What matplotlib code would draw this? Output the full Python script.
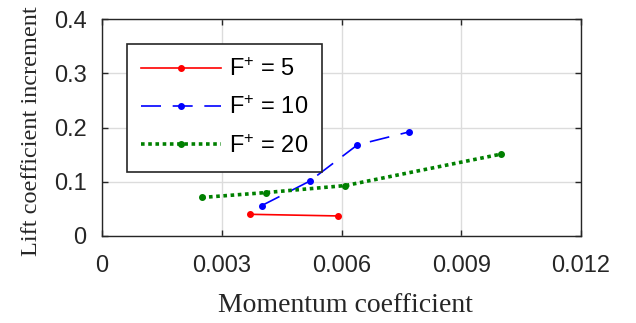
import matplotlib
matplotlib.use("Agg")
import matplotlib.pyplot as plt

# F+ = 5
x5 = [0.0037, 0.0059]
y5 = [0.040, 0.037]
# F+ = 10
x10 = [0.0040, 0.0052, 0.0064, 0.0077]
y10 = [0.056, 0.101, 0.168, 0.192]
# F+ = 20
x20 = [0.0025, 0.0041, 0.0061, 0.0100]
y20 = [0.071, 0.080, 0.093, 0.151]

xticks = [0, 0.003, 0.006, 0.009, 0.012]
xticklabels = ["0", "0.003", "0.006", "0.009", "0.012"]
yticks = [0, 0.1, 0.2, 0.3, 0.4]
yticklabels = ["0", "0.1", "0.2", "0.3", "0.4"]
labels = [r"F$^{+}$ = 5", r"F$^{+}$ = 10", r"F$^{+}$ = 20"]

plt.rcParams["font.family"] = "Liberation Sans"
plt.rcParams["mathtext.fontset"] = "custom"
plt.rcParams["mathtext.rm"] = "Liberation Sans"
plt.rcParams["mathtext.it"] = "Liberation Sans"

fig = plt.figure(figsize=(6.36, 3.23), dpi=100)
ax = fig.add_axes([102/636, 1 - 236/323, (581-102)/636, (236-19)/323])

ax.plot(x5, y5, "-", color="#ff0000", lw=1.2, marker="o", ms=4, label=labels[0])
ax.plot(x10, y10, color="#0000ff", lw=1.2, ls=(0, (12, 7)), marker="o", ms=4, label=labels[1])
ax.plot(x20, y20, color="#008000", lw=2.6, ls=(0, (1, 1)), marker="o", ms=4,
        dash_capstyle="butt", label=labels[2])

ax.set_xlim(0, 0.012)
ax.set_ylim(0, 0.4)
ax.set_xticks(xticks)
ax.set_xticklabels(xticklabels)
ax.set_yticks(yticks)
ax.set_yticklabels(yticklabels)
ax.grid(True, color="#dcdcdc", lw=1)
ax.set_axisbelow(True)
ax.tick_params(direction="in", top=True, right=True, labelsize=17, length=4,
               width=1, color="#262626", labelcolor="#262626")
ax.tick_params(axis="x", pad=14)
ax.tick_params(axis="y", pad=11)
for s in ax.spines.values():
    s.set_color("#262626")
    s.set_linewidth(1)

ax.set_xlabel("Momentum coefficient", fontfamily="Liberation Serif", fontsize=20, color="#262626")
ax.set_ylabel("Lift coefficient increment", fontfamily="Liberation Serif", fontsize=17.5, color="#262626")
ax.xaxis.set_label_coords(0.508, -0.264)
ax.yaxis.set_label_coords(-0.125, 0.484)

leg = ax.legend(loc="upper left", bbox_to_anchor=(25/479, 1 - 25/217), borderaxespad=0,
                fontsize=17, fancybox=False, edgecolor="#262626", framealpha=1,
                handlelength=3.4, handletextpad=0.3, borderpad=0.6, labelspacing=0.65)
leg.get_frame().set_linewidth(1.2)

fig.savefig("out.png", dpi=100)
